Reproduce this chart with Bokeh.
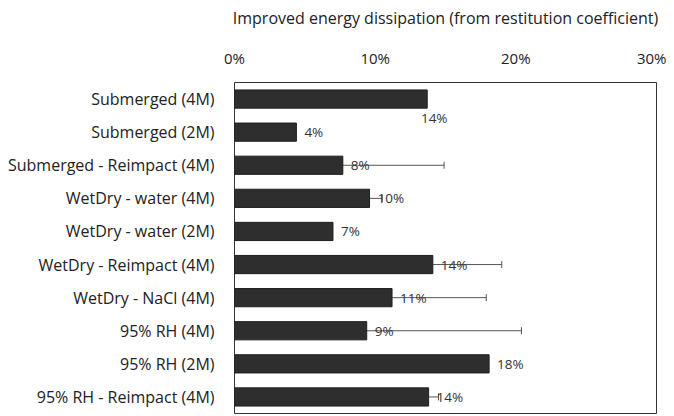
from bokeh.plotting import figure
from bokeh.models import (ColumnDataSource, FixedTicker, PrintfTickFormatter,
                          LinearAxis, CategoricalAxis, Whisker, TeeHead, Range1d, FactorRange)
from bokeh.embed import file_html
from bokeh.resources import INLINE
from bokeh.core.properties import value

categories = [
    "Submerged (4M)",
    "Submerged (2M)",
    "Submerged - Reimpact (4M)",
    "WetDry - water (4M)",
    "WetDry - water (2M)",
    "WetDry - Reimpact (4M)",
    "WetDry - NaCl (4M)",
    "95% RH (4M)",
    "95% RH (2M)",
    "95% RH - Reimpact (4M)",
]
values = [13.7, 4.4, 7.7, 9.6, 7.0, 14.1, 11.2, 9.4, 18.1, 13.8]
errors = [0.0, 0.0, 7.2, 0.9, 0.0, 4.9, 6.7, 11.0, 0.0, 0.7]
data_labels = ["14%", "4%", "8%", "10%", "7%", "14%", "11%", "9%", "18%", "14%"]
tick_values = [0, 10, 20, 30]
title_text = "Improved energy dissipation (from restitution coefficient)"

FONT = "Open Sans"

p = figure(
    width=666, height=415,
    y_range=FactorRange(*reversed(categories), range_padding=0.0),
    x_range=Range1d(0, 30),
    output_backend="svg", toolbar_location=None,
    x_axis_location=None, y_axis_location=None,
    min_border_left=234, min_border_top=82, min_border_right=10, min_border_bottom=2,
)
p.background_fill_color = "white"
p.border_fill_color = "white"
p.outline_line_color = "#333333"
p.outline_line_width = 1
p.xgrid.visible = False
p.ygrid.visible = False

# top axis
xaxis = LinearAxis(
    ticker=FixedTicker(ticks=tick_values),
    formatter=PrintfTickFormatter(format="%d%%"),
    axis_label=title_text,
)
xaxis.axis_line_color = None
xaxis.major_tick_line_color = None
xaxis.minor_tick_line_color = None
xaxis.major_label_standoff = 9
xaxis.axis_label_standoff = 16
xaxis.major_label_text_font = FONT
xaxis.major_label_text_font_size = "15px"
xaxis.major_label_text_color = "#222222"
xaxis.axis_label_text_font = FONT
xaxis.axis_label_text_font_size = "16px"
xaxis.axis_label_text_font_style = "normal"
xaxis.axis_label_text_color = "#222222"
p.add_layout(xaxis, "above")

# left categorical axis
yaxis = CategoricalAxis()
yaxis.axis_line_color = None
yaxis.major_tick_line_color = None
yaxis.minor_tick_line_color = None
yaxis.major_label_standoff = 14
yaxis.major_label_text_font = FONT
yaxis.major_label_text_font_size = "16px"
yaxis.major_label_text_color = "#222222"
p.add_layout(yaxis, "left")

upper = [v + e for v, e in zip(values, errors)]

# error bars (only those with an error)
idx = [i for i, e in enumerate(errors) if e > 0]
esrc = ColumnDataSource(dict(cat=[categories[i] for i in idx],
                             lower=[values[i] for i in idx],
                             upper=[upper[i] for i in idx]))
wh = Whisker(source=esrc, base="cat", lower="lower", upper="upper", dimension="width",
             line_color="#555555", line_width=1,
             upper_head=TeeHead(size=7, line_color="#555555", line_width=1),
             lower_head=None)
p.add_layout(wh)

src = ColumnDataSource(dict(cat=categories, val=values))
p.hbar(y="cat", left=0, right="val", height=0.55, source=src,
       fill_color="#2e2e2e", line_color="#1e1e1e", line_width=1)

# data labels (first one sits below the bar end)
lsrc = ColumnDataSource(dict(cat=categories[1:], val=values[1:], lab=data_labels[1:]))
p.text(x="val", y="cat", text="lab", source=lsrc, x_offset=8,
       text_align="left", text_baseline="middle",
       text_font=value(FONT), text_font_size="13.5px", text_color="#333333")
fsrc = ColumnDataSource(dict(cat=categories[:1], val=values[:1], lab=data_labels[:1]))
p.text(x="val", y="cat", text="lab", source=fsrc, x_offset=7, y_offset=19,
       text_align="center", text_baseline="middle",
       text_font=value(FONT), text_font_size="13.5px", text_color="#333333")

open("out.html", "w").write(file_html(p, INLINE))
